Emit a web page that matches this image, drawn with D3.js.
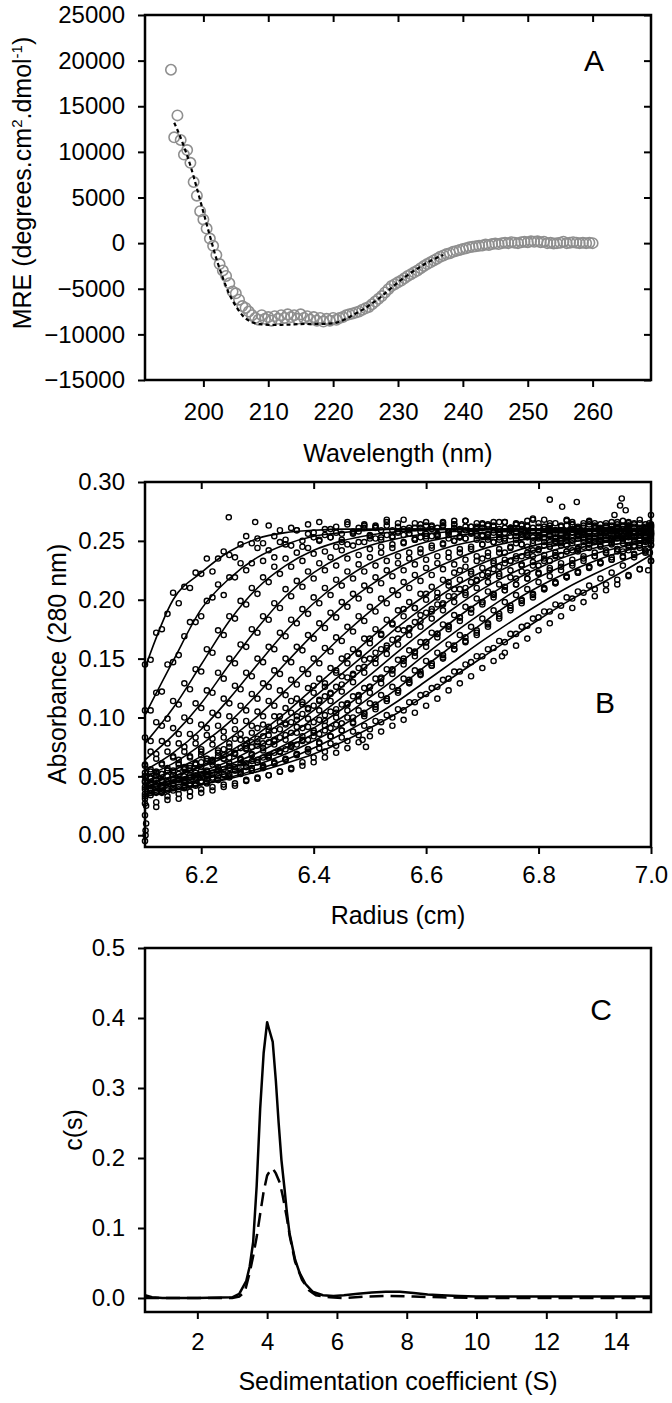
<!DOCTYPE html>
<html>
<head>
<meta charset="utf-8">
<script src="https://cdn.jsdelivr.net/npm/d3@7"></script>
<style>
  body { margin: 0; background: #fff; }
  svg { display: block; }
</style>
</head>
<body>
<svg id="fig" width="672" height="1403"></svg>
<script>
// ---------- panel A : CD spectrum (0.5 nm steps from 195 nm) ----------
var wlStart = 195, wlStep = 0.5;
var mreValues = [
  19000,11600,14000,11300,9700,10200,8800,6700,5200,3500,
  2600,1600,500,-300,-1300,-2300,-3000,-3600,-4400,-5300,
  -5500,-6200,-6900,-7100,-7500,-7900,-8200,-8400,-7900,-8300,
  -8100,-8500,-8000,-8300,-7900,-8200,-7800,-8100,-7900,-8300,
  -7800,-8200,-8000,-8400,-8100,-8500,-8200,-8600,-8300,-8500,
  -8200,-8400,-8200,-8100,-7900,-7800,-7700,-7600,-7500,-7300,
  -7150,-7000,-6700,-6400,-6100,-5800,-5400,-5050,-4700,-4500,
  -4300,-4100,-3850,-3600,-3400,-3200,-3000,-2750,-2500,-2300,
  -2100,-1900,-1700,-1500,-1350,-1200,-1100,-950,-850,-750,
  -650,-550,-450,-400,-350,-300,-250,-150,-200,-100,
  -50,-100,0,50,0,100,50,0,100,150,
  100,200,150,200,100,150,0,50,-50,0,
  50,150,0,50,100,50,0,50,0,50,
  0
];
var fitWl = [195.5,196,197,198,199,200,201,202,203,204,205,206,207,208,209,210,212,214,216,218,220,221,222,223,224,225,226,227,228,229,230,231,232,233,234,235,236,237];
var fitMre = [13200,12400,10600,8500,6000,3400,800,-1700,-3800,-5600,-6900,-7900,-8500,-8800,-8900,-8950,-8950,-8900,-8850,-8850,-8800,-8600,-8300,-7900,-7500,-7100,-6600,-6100,-5500,-4900,-4300,-3750,-3250,-2800,-2350,-1950,-1600,-1300];
var wlTicks = [200,210,220,230,240,250,260];
var mreTicks = [-15000,-10000,-5000,0,5000,10000,15000,20000,25000];

// ---------- panel B : sedimentation velocity scans (mAU, 0.01 cm steps from 6.10 cm) ----------
var radStart = 6.10, radStep = 0.01;
var obs1 = [145,149,172,175,188,206,197,211,210,223,222,235,224,235,241,238,236,247,254,248,252,248,263,254,259,251,261,259,250,264,257,266,255,260,262,251,266,257,261,264,255,263,259,268,253,262,260,256,265,258,266,254,261,263,252,264,259,267,257,260,265,255,262,253,266,261,258,264,256,269,254,260,263,259,255,267,257,262,265,252,261,264,258,266,256,260,263,254,268,259,262];
var obs2 = [106,106,121,122,145,147,153,169,181,181,186,199,202,213,204,219,219,231,225,231,244,233,242,236,249,247,246,259,245,256,253,251,260,253,257,249,264,256,258,263,254,261,253,266,259,257,268,256,261,253,263,260,255,265,258,267,254,259,262,256,264,251,266,260,257,261,265,253,263,258,255,268,259,256,262,254,264,260,257,266,252,261,258,263,255,267,259,256,265,254,257];
var obs3 = [83,80,96,93,99,114,111,129,124,141,139,158,155,174,170,186,184,199,196,210,205,219,215,228,222,235,228,240,233,244,239,250,241,253,245,256,247,258,249,261,252,262,251,263,254,265,255,261,252,264,256,263,254,266,257,261,253,267,258,262,255,264,259,251,266,260,257,263,254,268,258,262,255,265,259,253,264,260,256,267,261,254,263,258,266,252,260,265,257,262,256];
var obs4 = [60,71,69,80,78,91,86,100,97,112,108,123,121,138,133,150,146,162,160,175,172,186,183,197,193,209,203,216,211,224,218,231,225,236,229,242,235,246,238,249,243,252,245,255,247,258,249,259,251,261,252,262,254,263,255,264,253,262,256,265,254,263,257,266,252,261,264,255,267,258,262,253,265,259,256,268,260,254,263,257,265,251,262,259,264,255,266,258,261,253,263];
var obs5 = [59,54,65,60,71,67,78,75,86,83,94,91,104,102,116,112,127,124,138,135,150,147,160,158,172,169,183,180,192,188,202,197,210,204,217,212,224,218,230,224,236,229,240,233,244,237,248,240,251,243,254,246,256,248,258,250,260,252,262,251,261,253,263,255,261,254,264,256,262,253,265,257,260,252,263,258,266,255,261,254,263,257,265,252,260,262,255,264,258,253,261];
var obs6 = [46,56,51,61,55,66,60,71,67,78,73,85,82,93,88,101,97,110,106,120,116,129,126,140,137,150,147,160,157,170,167,180,176,189,185,198,194,205,201,212,208,219,214,225,220,231,225,235,230,240,234,244,237,247,240,250,243,252,245,254,247,256,249,257,250,259,251,260,253,261,252,262,254,259,250,263,255,261,253,264,256,260,251,262,257,254,263,258,252,260,256];
var obs7 = [50,44,54,47,57,51,61,56,66,61,71,65,77,72,83,78,90,86,97,93,105,101,114,110,123,119,132,128,141,137,150,146,159,156,168,165,177,173,186,182,194,190,201,197,208,204,215,210,221,216,227,221,231,226,236,230,240,234,243,237,247,240,249,243,252,245,254,247,255,248,257,249,258,250,259,251,260,252,258,250,261,253,259,251,262,254,257,250,260,255,252];
var obs8 = [39,48,42,52,45,55,48,58,51,61,55,65,60,70,65,75,70,81,76,87,82,94,89,101,96,108,104,116,113,125,121,133,129,142,138,150,146,158,155,167,163,175,171,183,179,191,186,198,193,205,200,211,206,217,212,223,217,228,222,233,227,237,231,240,234,244,237,247,240,250,243,252,245,253,246,255,248,256,249,257,250,258,251,259,252,260,253,258,251,261,254];
var obs9 = [45,38,47,41,50,43,52,45,55,49,58,52,62,56,65,59,69,64,74,69,79,74,85,80,90,85,96,92,103,99,110,106,118,114,126,122,134,130,142,138,150,146,158,154,166,162,174,170,181,177,189,184,196,191,203,198,209,204,215,210,221,215,226,220,231,225,235,229,238,232,242,235,245,238,248,241,250,243,251,244,253,246,254,247,255,248,256,249,257,250,258];
var obs10 = [35,44,37,46,40,48,41,50,44,53,46,55,49,58,52,61,55,65,58,68,62,72,66,77,71,81,76,87,81,92,87,98,93,105,100,111,106,118,114,125,121,133,129,141,137,149,145,157,152,164,160,172,168,179,175,187,182,194,189,201,196,207,202,213,208,219,213,224,218,229,223,233,227,237,231,241,234,244,237,247,240,249,242,250,243,252,245,253,246,254,247];
var obs11 = [41,34,42,36,45,38,47,40,49,42,51,44,53,47,56,49,58,52,61,55,64,58,68,61,71,65,75,69,80,73,84,79,89,84,94,89,100,95,106,101,112,107,119,114,126,121,133,129,140,136,148,144,155,151,162,158,170,165,177,172,184,179,191,186,198,193,204,199,209,204,215,209,220,214,225,219,229,223,233,227,237,231,240,234,243,237,246,239,248,241,250];
var obs12 = [31,39,28,41,33,43,35,45,37,47,39,48,41,50,43,52,44,55,47,57,49,59,51,62,54,64,56,68,59,71,62,74,66,78,70,83,74,88,79,93,84,97,88,102,93,107,98,113,104,119,110,125,116,132,123,139,129,145,135,152,142,158,148,165,155,171,161,177,167,184,174,190,180,196,186,202,193,207,198,212,203,218,208,223,213,229,220,236,226,242,233];
var obs13 = [53,38,50,37,55,47,64,45,57,51,68,54,63,55,73,66,82,64,81,75,91,78,92,81,101,95,114,98,111,108,127,115,126,120,140,135,152,137,154,149,167,155,170,161,180,175,192,176,193,187,205,192,202,196,215,209,225,206,224,217,235,220,233,222,240,233,248,230,245,237,253,238,249,240,252,246,260,241,255,247,262,245,258,248,261,250,265,246,259,251,264];
var obs14 = [33,49,36,52,38,54,39,57,42,60,45,63,48,67,51,71,55,74,58,79,62,84,67,89,71,94,77,101,84,107,89,114,97,121,104,128,111,136,118,143,126,150,133,159,141,167,150,175,156,182,164,190,171,197,178,203,185,210,192,216,198,223,204,228,208,233,213,237,218,242,222,246,225,249,228,252,231,254,235,257,237,259,240,260,241,263,242,262,244,264,246];
var obs15 = [50,36,53,37,55,40,57,41,59,43,62,45,64,47,68,50,69,53,73,55,76,57,79,61,83,64,87,69,91,73,96,78,102,84,107,89,112,96,119,103,126,109,134,116,140,123,148,132,155,139,164,146,171,153,177,161,185,168,192,174,198,180,205,188,211,195,218,200,223,205,229,210,233,215,238,220,242,224,245,228,249,231,251,234,254,236,256,238,258,240,259];
var obs16 = [27,38,24,42,30,44,31,47,33,49,36,51,38,55,41,57,42,61,46,63,48,66,51,70,54,73,57,77,62,81,66,86,71,91,76,95,80,100,85,104,90,111,96,116,100,123,106,130,113,137,120,144,126,150,133,158,139,164,147,170,152,177,159,184,164,191,171,197,178,202,185,209,190,214,195,219,201,223,206,228,209,232,213,236,217,241,221,245,226,249,233];
var fitRadii = [6.10,6.15,6.20,6.25,6.30,6.35,6.40,6.45,6.50,6.55,6.60,6.65,6.70,6.75,6.80,6.85,6.90,6.95,7.00];
var fit1 = [142,200,223,241,252,257,259,260,260,260,260,260,260,260,260,260,260,260,260];
var fit2 = [102,148,192,218,236,247,254,257,259,260,260,260,260,260,260,260,260,260,260];
var fit3 = [78,108,145,182,210,229,242,250,255,258,259,260,260,260,260,260,260,260,260];
var fit4 = [64,85,112,145,176,203,223,237,246,252,256,258,259,260,260,260,260,260,260];
var fit5 = [55,70,90,116,145,173,197,216,231,241,249,254,257,258,259,259,259,259,259];
var fit6 = [50,61,77,96,120,146,171,194,212,227,238,246,251,255,257,258,258,258,258];
var fit7 = [46,55,67,82,101,123,146,169,190,208,223,234,243,249,253,255,256,256,256];
var fit8 = [43,50,59,71,86,104,125,146,167,187,204,219,231,240,247,251,254,255,255];
var fit9 = [41,47,54,63,75,89,106,126,146,166,185,202,217,229,238,245,249,252,253];
var fit10 = [39,44,50,57,66,77,91,107,125,145,164,183,200,215,227,237,244,248,251];
var fit11 = [37,42,47,53,60,69,80,93,108,125,144,162,180,197,211,223,233,241,246];
var fit12 = [35,39,43,48,54,61,69,79,91,104,119,135,151,167,183,198,211,224,238];
var fit13 = [44,50,58,68,82,98,117,137,157,177,195,211,224,235,243,248,252,254,255];
var fit14 = [40,45,52,60,70,83,99,117,136,156,175,193,209,222,233,241,247,251,253];
var fit15 = [42,46,51,57,64,74,86,100,117,135,154,172,189,205,219,230,239,245,250];
var fit16 = [33,38,43,49,56,64,74,86,99,114,131,148,165,181,196,210,222,233,243];
var strayR = [6.100,6.101,6.101,6.102,6.100,6.102,6.249,6.296,6.487,6.493,6.735,6.820,6.842,6.868,6.935,6.945,6.948,6.955,6.995,6.997,6.998,7.000,7.000];
var strayA = [-5,0,4,10,17,25,270,266,81,75,152,285,279,283,272,280,286,276,225,265,240,255,272];
var radTicks = [6.2,6.4,6.6,6.8,7.0];
var absTicks = [0,0.05,0.10,0.15,0.20,0.25,0.30];

// ---------- panel C : c(s) distributions ----------
var sSolid = [0.5,0.7,1.0,2.0,3.0,3.2,3.4,3.5,3.6,3.7,3.8,3.9,4.0,4.05,4.16,4.25,4.33,4.41,4.5,4.56,4.64,4.8,4.93,5.1,5.3,5.6,5.9,6.2,6.6,7.0,7.4,7.8,8.2,8.6,9.0,9.5,10,11,12,13,14,15];
var cSolid = [0.004,0.001,0,0,0.001,0.006,0.024,0.045,0.08,0.16,0.27,0.35,0.394,0.385,0.366,0.31,0.25,0.197,0.155,0.125,0.093,0.055,0.036,0.02,0.009,0.004,0.003,0.004,0.006,0.008,0.009,0.009,0.007,0.005,0.004,0.003,0.002,0.002,0.002,0.002,0.002,0.002];
var sDash = [0.5,3.0,3.2,3.36,3.5,3.6,3.7,3.8,3.9,4.0,4.1,4.16,4.25,4.36,4.45,4.56,4.65,4.8,5.0,5.2,5.4,5.8,6.2,6.8,7.5,8.2,9.0,10,15];
var cDash = [0,0,0.002,0.009,0.036,0.06,0.087,0.12,0.152,0.175,0.183,0.185,0.178,0.165,0.145,0.116,0.088,0.052,0.026,0.011,0.004,0.001,0,0.002,0.003,0.002,0.001,0,0];
var sTicks = [2,4,6,8,10,12,14];
var cTicks = [0,0.1,0.2,0.3,0.4,0.5];

var font = "'Liberation Sans', Arial, Helvetica, sans-serif";
var svg = d3.select("#fig");
svg.append("rect").attr("width", 672).attr("height", 1403).attr("fill", "#fff");

var L = 145, R = 651;

// box + ticks, sigmaplot style: outer ticks bottom/left, inner ticks top/right
function axes(x, y, top, bottom, o) {
  var g = svg.append("g");
  g.append("g").attr("transform", "translate(0," + bottom + ")")
    .call(d3.axisBottom(x).tickValues(o.xTicks).tickFormat(o.xFormat)
      .tickSizeInner(7).tickSizeOuter(0).tickPadding(o.xPad));
  g.append("g").attr("transform", "translate(" + L + ",0)")
    .call(d3.axisLeft(y).tickValues(o.yTicks).tickFormat(o.yFormat)
      .tickSizeInner(7).tickSizeOuter(0).tickPadding(13));
  if (o.topTicks) {
    g.append("g").attr("transform", "translate(0," + top + ")")
      .call(d3.axisBottom(x).tickValues(o.topTicks).tickFormat("").tickSizeInner(7).tickSizeOuter(0));
  }
  if (o.rightTicks) {
    g.append("g").attr("transform", "translate(" + R + ",0)")
      .call(d3.axisLeft(y).tickValues(o.rightTicks).tickFormat("").tickSizeInner(7).tickSizeOuter(0));
  }
  g.selectAll(".domain").remove();
  g.selectAll(".tick line").attr("stroke", "#000").attr("stroke-width", 2);
  g.selectAll(".tick text").attr("fill", "#000")
    .style("font-family", font).style("font-size", "24px");
  g.append("rect").attr("x", L).attr("y", top)
    .attr("width", R - L).attr("height", bottom - top)
    .attr("fill", "none").attr("stroke", "#000").attr("stroke-width", 2.5);
}

function label(txt, x, y, size, rotate) {
  var t = svg.append("text")
    .attr("text-anchor", "middle")
    .style("font-family", font).style("font-size", size + "px")
    .attr("fill", "#000");
  if (rotate) {
    t.attr("transform", "translate(" + x + "," + y + ") rotate(-90)").attr("dy", "0.35em");
  } else {
    t.attr("x", x).attr("y", y);
  }
  if (txt) t.text(txt);
  return t;
}

// ---------- A ----------
var xA = d3.scaleLinear().domain([191, 269]).range([L, R]);
var yA = d3.scaleLinear().domain([-15000, 25000]).range([380, 15]);
axes(xA, yA, 15, 380, {
  xTicks: wlTicks, xFormat: d3.format("d"), xPad: 16,
  yTicks: mreTicks, yFormat: d3.format("d"),
  topTicks: wlTicks, rightTicks: mreTicks
});
var gA = svg.append("g");
gA.selectAll("circle").data(mreValues).join("circle")
  .attr("cx", function(d, i) { return xA(wlStart + i * wlStep); })
  .attr("cy", function(d) { return yA(d); })
  .attr("r", 5.2)
  .attr("fill", "none").attr("stroke", "#8f8f8f").attr("stroke-width", 1.6);
var lineA = d3.line().curve(d3.curveMonotoneX)
  .x(function(d, i) { return xA(fitWl[i]); })
  .y(function(d) { return yA(d); });
gA.append("path").datum(fitMre).attr("d", lineA)
  .attr("fill", "none").attr("stroke", "#000").attr("stroke-width", 2.2)
  .attr("stroke-dasharray", "4,3");
label("Wavelength (nm)", 398, 462, 25);
var tA = label(null, 22, 183, 25, true);
tA.append("tspan").text("MRE (degrees.cm");
tA.append("tspan").attr("dy", -9).style("font-size", "15px").text("2");
tA.append("tspan").attr("dy", 9).text(".dmol");
tA.append("tspan").attr("dy", -9).style("font-size", "15px").text("-1");
tA.append("tspan").attr("dy", 9).text(")");
label("A", 594, 71, 30);

// ---------- B ----------
var xB = d3.scaleLinear().domain([6.1, 7.0]).range([L, R]);
var yB = d3.scaleLinear().domain([-0.01, 0.30]).range([847, 482]);
axes(xB, yB, 482, 847, {
  xTicks: radTicks, xFormat: d3.format(".1f"), xPad: 12,
  yTicks: absTicks, yFormat: d3.format(".2f"),
  topTicks: [6.2, 6.4, 6.6, 6.8]
});
var obsScans = [obs1, obs2, obs3, obs4, obs5, obs6, obs7, obs8, obs9, obs10, obs11, obs12, obs13, obs14, obs15, obs16];
var fitScans = [fit1, fit2, fit3, fit4, fit5, fit6, fit7, fit8, fit9, fit10, fit11, fit12, fit13, fit14, fit15, fit16];
var gB = svg.append("g");
var lineB = d3.line().curve(d3.curveMonotoneX)
  .x(function(d, i) { return xB(fitRadii[i]); })
  .y(function(d) { return yB(d / 1000); });
obsScans.forEach(function(scan) {
  gB.append("g").selectAll("circle").data(scan).join("circle")
    .attr("cx", function(d, i) { return xB(radStart + i * radStep); })
    .attr("cy", function(d) { return yB(d / 1000); })
    .attr("r", 2.6)
    .attr("fill", "none").attr("stroke", "#000").attr("stroke-width", 1.4);
});
gB.append("g").selectAll("circle").data(strayA).join("circle")
  .attr("cx", function(d, i) { return xB(strayR[i]); })
  .attr("cy", function(d) { return yB(d / 1000); })
  .attr("r", 2.6)
  .attr("fill", "none").attr("stroke", "#000").attr("stroke-width", 1.4);
fitScans.forEach(function(f) {
  gB.append("path").datum(f).attr("d", lineB)
    .attr("fill", "none").attr("stroke", "#000").attr("stroke-width", 1.6);
});
label("Radius (cm)", 398, 924, 25);
label("Absorbance (280 nm)", 57, 664, 25, true);
label("B", 605, 713, 30);

// ---------- C ----------
var xC = d3.scaleLinear().domain([0.5, 15]).range([L, R]);
var yC = d3.scaleLinear().domain([-0.02, 0.5]).range([1312, 948]);
axes(xC, yC, 948, 1312, {
  xTicks: sTicks, xFormat: d3.format("d"), xPad: 14,
  yTicks: cTicks, yFormat: d3.format(".1f")
});
var gC = svg.append("g");
gC.append("path").datum(cDash)
  .attr("d", d3.line().x(function(d, i) { return xC(sDash[i]); }).y(function(d) { return yC(d); }))
  .attr("fill", "none").attr("stroke", "#000").attr("stroke-width", 2.5)
  .attr("stroke-dasharray", "14,7");
gC.append("path").datum(cSolid)
  .attr("d", d3.line().x(function(d, i) { return xC(sSolid[i]); }).y(function(d) { return yC(d); }))
  .attr("fill", "none").attr("stroke", "#000").attr("stroke-width", 2.5)
  .attr("stroke-linejoin", "round");
label("Sedimentation coefficient (S)", 398, 1390, 25);
label("c(s)", 73, 1130, 25, true);
label("C", 601, 1020, 30);
</script>
</body>
</html>
